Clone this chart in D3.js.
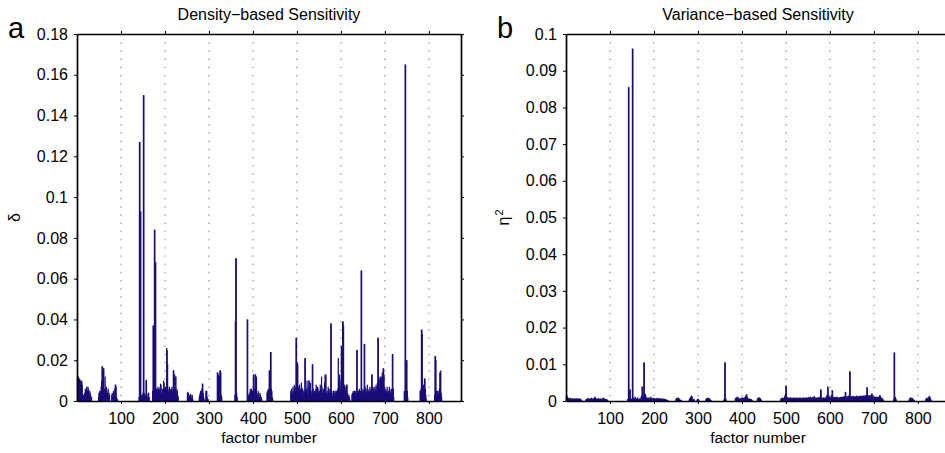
<!DOCTYPE html>
<html lang="en">
<head>
<meta charset="utf-8">
<title>Density- and Variance-based Sensitivity</title>
<style>
    body { margin: 0; background: #fff; }
    svg { display: block; font-family: "Liberation Sans", Arial, sans-serif; }
    .tick text { font-size: 16px; fill: #000; }
    .tick line { stroke: #000; stroke-width: 1; }
    .domain { stroke: #000; stroke-width: 1.7; }
    .grid line { stroke: #777; stroke-width: 1; stroke-dasharray: 1.4,6.8; }
    .bar { fill: #1a0c78; }
</style>
<script src="https://cdn.jsdelivr.net/npm/d3@7/dist/d3.min.js"></script>
</head>
<body>
<svg width="945" height="453"></svg>
<script>
// axis ranges and tick values
const factorMax = 873;
const xTicks = [100, 200, 300, 400, 500, 600, 700, 800];
const deltaTicks = [0, 0.02, 0.04, 0.06, 0.08, 0.1, 0.12, 0.14, 0.16, 0.18];
const etaTicks = [0, 0.01, 0.02, 0.03, 0.04, 0.05, 0.06, 0.07, 0.08, 0.09, 0.1];

// density-based delta: runs of consecutive factors, first factor of each run + its values
const deltaStarts = [1, 49, 79, 141, 172, 251, 278, 319, 359, 387, 432, 486, 625, 744, 780, 813];
const deltaValues = [
    [0.012, 0.0115, 0.012, 0.011, 0.0105, 0.011, 0.010, 0.0095, 0.010, 0.009, 0.010, 0.008, 0.003, 0.002, 0.003, 0.002, 0.004, 0.003,
     0.006, 0.005, 0.006, 0.007, 0.004, 0.005, 0.007, 0.006, 0.003, 0.002, 0.005, 0.004, 0.003, 0.001, 0.002],
    [0.002, 0.004, 0.004, 0.005, 0.005, 0.004, 0.007, 0.010, 0.017, 0.017, 0.005, 0.016, 0.016, 0.006, 0.004, 0.012, 0.006, 0.003,
     0.007, 0.005, 0.004, 0.003, 0.006, 0.002, 0.004, 0.003],
    [0.003, 0.004, 0.002, 0.003, 0.005, 0.004, 0.003, 0.006, 0.008, 0.008, 0.007, 0.002, 0.001, 0.001],
    [0.002, 0.127, 0.127, 0.093, 0.093, 0.003, 0.002, 0.001, 0.003, 0.004, 0.150, 0.150, 0.004, 0.002, 0.001, 0.003, 0.010, 0.0105,
     0.003, 0.001, 0.002, 0.004, 0.004, 0.002],
    [0.005, 0.037, 0.037, 0.006, 0.084, 0.084, 0.068, 0.068, 0.003, 0.006,
     0.006, 0.005, 0.007, 0.006, 0.004, 0.006, 0.005, 0.007, 0.0085, 0.008,
     0.003, 0.004, 0.006, 0.003, 0.005, 0.010, 0.009, 0.006, 0.004, 0.007,
     0.005, 0.006, 0.026, 0.025, 0.018, 0.006, 0.004, 0.005, 0.007, 0.003,
     0.006, 0.005, 0.004, 0.006, 0.007, 0.005, 0.004, 0.015, 0.015, 0.006,
     0.013, 0.012, 0.005, 0.012, 0.004, 0.006, 0.005, 0.003, 0.002],
    [0.004, 0.0045, 0.004, 0.002, 0.001, 0.003, 0.002, 0.0035, 0.003, 0.001, 0.002, 0.003, 0.001],
    [0.002, 0.003, 0.004, 0.005, 0.005, 0.004, 0.006, 0.0085, 0.0085, 0.004, 0.002, 0.001, 0, 0, 0, 0.005, 0.0045, 0.005, 0.002, 0.001, 0.001],
    [0.014, 0.014, 0.010, 0.013, 0.004, 0.012, 0.015, 0.015, 0.014, 0.003, 0.002],
    [0.003, 0.039, 0.070, 0.070, 0.004, 0.002],
    [0.040, 0.040, 0.003, 0.002, 0.003, 0.004, 0.003, 0.006, 0.005, 0.004, 0.006, 0.003, 0.005, 0.004, 0.013, 0.013, 0.006,
     0.003, 0.013, 0.013, 0.011, 0.012, 0.004, 0.003, 0.002, 0.005, 0.004, 0.002, 0.001, 0.004, 0.003, 0.001, 0.002, 0.001],
    [0.004, 0.005, 0.005, 0.006, 0.005, 0.015, 0.014, 0.015, 0.024, 0.024, 0.006, 0.005, 0.002, 0.001],
    [0.005, 0.004, 0.006, 0.004, 0.003, 0.007, 0.005, 0.004, 0.008, 0.006, 0.007, 0.005,
     0.031, 0.031, 0.008, 0.019, 0.018, 0.006, 0.007, 0.004,
     0.008, 0.005, 0.006, 0.003, 0.009, 0.007, 0.004, 0.006, 0.005, 0.003, 0.005, 0.004,
     0.021, 0.021, 0.005,
     0.004, 0.006, 0.010, 0.003, 0.007, 0.005, 0.010, 0.010, 0.004, 0.008, 0.009, 0.004, 0.003, 0.005,
     0.018, 0.018, 0.006, 0.004,
     0.003, 0.005, 0.004, 0.003, 0.006, 0.008, 0.005, 0.003, 0.007, 0.006, 0.004, 0.003, 0.005, 0.004, 0.008, 0.006, 0.003,
     0.012, 0.007, 0.004, 0.003, 0.006, 0.005, 0.004, 0.009,
     0.013, 0.012, 0.013, 0.004,
     0.003, 0.002, 0.005, 0.007, 0.006, 0.003, 0.004, 0.006, 0.005,
     0.038, 0.038, 0.005,
     0.003, 0.002, 0.004, 0.005, 0.005, 0.003, 0.004, 0.005, 0.002, 0.004, 0.005, 0.003, 0.005, 0.006,
     0.021, 0.009, 0.005, 0.013, 0.006, 0.004, 0.010, 0.027, 0.027, 0.008, 0.039, 0.039, 0.037, 0.006,
     0.008, 0.005, 0.004, 0.007, 0.003, 0.008, 0.008, 0.004, 0.002, 0.003, 0.003, 0.002, 0.001],
    [0.003, 0.004, 0.004, 0.005, 0.003, 0.004, 0.005, 0.004, 0.003, 0.005, 0.004, 0.025, 0.025, 0.004, 0.003, 0.005,
     0.004, 0.006, 0.003, 0.005, 0.004, 0.064, 0.064, 0.005, 0.004, 0.006, 0.005, 0.003, 0.028, 0.028, 0.007, 0.005,
     0.006, 0.003, 0.005, 0.008, 0.004, 0.003, 0.005, 0.006, 0.004, 0.007, 0.005, 0.003, 0.006, 0.013, 0.013, 0.005,
     0.007, 0.006, 0.004, 0.005, 0.007, 0.003, 0.006, 0.008, 0.005, 0.007, 0.009, 0.031, 0.031, 0.012, 0.011, 0.006,
     0.010, 0.012, 0.008, 0.011, 0.012, 0.014, 0.012, 0.016, 0.016, 0.013, 0.007, 0.005, 0.004, 0.006, 0.003, 0.005,
     0.007, 0.004, 0.003, 0.005, 0.004, 0.007, 0.006, 0.004, 0.003, 0.005, 0.006, 0.004, 0.023, 0.023, 0.006, 0.002],
    [0.005, 0.004, 0.165, 0.165, 0.003, 0.020, 0.020, 0.005, 0.002],
    [0.005, 0.004, 0.006, 0.035, 0.035, 0.033, 0.007, 0.006, 0.008, 0.007, 0.011, 0.011, 0.006, 0.003, 0.001],
    [0.003, 0.022, 0.022, 0.020, 0.005, 0.004, 0.005, 0.004, 0.005, 0.003, 0.004, 0.006, 0.014, 0.014, 0.015, 0.004, 0.002]
];

// variance-based eta^2, same layout
const etaStarts = [1, 45, 140, 170, 250, 280, 298, 318, 359, 385, 435, 488, 745, 780, 818];
const etaValues = [
    [0.0013, 0.0015, 0.0012, 0.0010, 0.0008, 0.0006, 0.0007, 0.0005, 0.0009, 0.0006, 0.0004, 0.0007, 0.0005, 0.0006, 0.0008, 0.0005,
     0.0004, 0.0006, 0.0007, 0.0005, 0.0006, 0.0004, 0.0008, 0.0005, 0.0006, 0.0007, 0.0004, 0.0005, 0.0006, 0.0008, 0.0005, 0.0004,
     0.0006, 0.0005, 0.0003, 0.0002],
    [0.0003, 0.0005, 0.0006, 0.0004, 0.0007, 0.0005, 0.0006, 0.0008, 0.0005, 0.0004, 0.0006, 0.0007, 0.0005, 0.0009, 0.0006, 0.0004,
     0.0005, 0.0008, 0.0006, 0.0007, 0.0010, 0.0012, 0.0008, 0.0006, 0.0005, 0.0007, 0.0004, 0.0006, 0.0005, 0.0008, 0.0006, 0.0004,
     0.0005, 0.0007, 0.0006, 0.0005, 0.0004, 0.0006, 0.0008, 0.0005, 0.0007, 0.0009, 0.0006, 0.0004, 0.0005, 0.0006, 0.0004, 0.0003,
     0.0005, 0.0003, 0.0002],
    [0.0005, 0.0006, 0.0855, 0.0855, 0.0008, 0.0030, 0.0032, 0.0008, 0.0005, 0.0004, 0.0006, 0.0960, 0.0960, 0.0009, 0.0006, 0.0008,
     0.0005, 0.0012, 0.0009, 0.0006, 0.0004, 0.0007, 0.0005, 0.0010, 0.0006, 0.0004, 0.0005, 0.0007, 0.0004],
    [0.0008, 0.0012, 0.0015, 0.0040, 0.0038, 0.0015, 0.0010, 0.0105, 0.0105, 0.0018, 0.0020, 0.0015, 0.0012,
     0.0008, 0.0006, 0.0009, 0.0007, 0.0005, 0.0008, 0.0010, 0.0007, 0.0006, 0.0009, 0.0012, 0.0008, 0.0006, 0.0005, 0.0007, 0.0009,
     0.0006, 0.0008, 0.0005, 0.0007, 0.0006, 0.0004, 0.0008, 0.0006, 0.0005, 0.0007, 0.0009, 0.0006, 0.0005, 0.0004, 0.0007, 0.0006,
     0.0008, 0.0005, 0.0006, 0.0004, 0.0005, 0.0007, 0.0006, 0.0004, 0.0005, 0.0006, 0.0004, 0.0003, 0.0005, 0.0004, 0.0003, 0.0002,
     0.0003, 0.0002],
    [0.0005, 0.0008, 0.0009, 0.0007, 0.0008, 0.0006, 0.0009, 0.0007, 0.0005, 0.0004, 0.0003, 0.0002, 0.0003],
    [0.0004, 0.0006, 0.0008, 0.0010, 0.0012, 0.0015, 0.0014, 0.0010, 0.0006, 0.0004, 0.0003, 0.0005, 0.0004],
    [0.0004, 0.0005, 0.0006, 0.0005, 0.0003],
    [0.0004, 0.0006, 0.0008, 0.0007, 0.0009, 0.0008, 0.0006, 0.0008, 0.0007, 0.0005, 0.0004, 0.0003, 0.0002],
    [0.0004, 0.0006, 0.0105, 0.0105, 0.0008, 0.0004],
    [0.0008, 0.0006, 0.0010, 0.0008, 0.0012, 0.0009, 0.0007, 0.0010, 0.0008, 0.0005, 0.0004, 0.0006, 0.0008, 0.0007, 0.0009, 0.0006,
     0.0008, 0.0010, 0.0007, 0.0006, 0.0009, 0.0008, 0.0011, 0.0012, 0.0015, 0.0018, 0.0018, 0.0012, 0.0008, 0.0006, 0.0005, 0.0007,
     0.0006, 0.0005, 0.0004, 0.0006, 0.0005, 0.0004, 0.0003],
    [0.0005, 0.0008, 0.0009, 0.0007, 0.0010, 0.0008, 0.0009, 0.0006, 0.0005, 0.0003],
    [0.0005, 0.0007, 0.0008, 0.0006, 0.0009, 0.0007, 0.0008, 0.0006, 0.0010, 0.0012,
     0.0015, 0.0020, 0.0043, 0.0040, 0.0012, 0.0009, 0.0008, 0.0010, 0.0007, 0.0009,
     0.0008, 0.0006, 0.0009, 0.0010, 0.0007, 0.0008, 0.0009, 0.0006, 0.0008, 0.0007,
     0.0010, 0.0009, 0.0007, 0.0008, 0.0006, 0.0009, 0.0008, 0.0010, 0.0007, 0.0006,
     0.0008, 0.0009, 0.0007, 0.0008, 0.0010, 0.0006, 0.0008, 0.0009, 0.0007, 0.0008,
     0.0006, 0.0009, 0.0010, 0.0008, 0.0007, 0.0009, 0.0008, 0.0006, 0.0010, 0.0008,
     0.0007, 0.0009, 0.0008, 0.0011, 0.0007, 0.0008, 0.0010, 0.0009, 0.0012, 0.0008,
     0.0007, 0.0009, 0.0010, 0.0008, 0.0012, 0.0009, 0.0011, 0.0013, 0.0010, 0.0008,
     0.0007, 0.0009, 0.0008, 0.0010, 0.0007, 0.0008, 0.0009, 0.0011, 0.0008, 0.0010,
     0.0012, 0.0032, 0.0030, 0.0010, 0.0008, 0.0007, 0.0009, 0.0008, 0.0010, 0.0007,
     0.0008, 0.0009, 0.0007, 0.0010, 0.0012, 0.0015, 0.0018, 0.0040, 0.0036, 0.0015,
     0.0010, 0.0012, 0.0011, 0.0009, 0.0010, 0.0013, 0.0016, 0.0030, 0.0028, 0.0012,
     0.0010, 0.0011, 0.0009, 0.0010, 0.0008, 0.0011, 0.0009, 0.0010, 0.0012, 0.0008,
     0.0010, 0.0009, 0.0007, 0.0009, 0.0010, 0.0008, 0.0011, 0.0009, 0.0010, 0.0012,
     0.0009, 0.0011, 0.0010, 0.0012, 0.0013, 0.0010, 0.0014, 0.0025, 0.0024, 0.0012,
     0.0010, 0.0013, 0.0011, 0.0012, 0.0015, 0.0013, 0.0014, 0.0081, 0.0080, 0.0012,
     0.0011, 0.0013, 0.0012, 0.0010, 0.0012, 0.0014, 0.0011, 0.0013, 0.0012, 0.0010,
     0.0012, 0.0011, 0.0013, 0.0015, 0.0012, 0.0010, 0.0013, 0.0012, 0.0014, 0.0011,
     0.0013, 0.0012, 0.0015, 0.0013, 0.0011, 0.0014, 0.0012, 0.0013, 0.0015, 0.0012,
     0.0014, 0.0013, 0.0016, 0.0014, 0.0015, 0.0017, 0.0038, 0.0036, 0.0016, 0.0014,
     0.0015, 0.0013, 0.0016, 0.0014, 0.0015, 0.0013, 0.0017, 0.0021, 0.0020, 0.0014,
     0.0012, 0.0013, 0.0011, 0.0010, 0.0012, 0.0011, 0.0009, 0.0010, 0.0012, 0.0011,
     0.0010, 0.0009, 0.0011, 0.0010, 0.0013, 0.0015, 0.0016, 0.0012, 0.0010, 0.0009,
     0.0008, 0.0007, 0.0006, 0.0004, 0.0002],
    [0.0006, 0.0132, 0.0132, 0.0012, 0.0010, 0.0006, 0.0004],
    [0.0004, 0.0006, 0.0008, 0.0010, 0.0009, 0.0008, 0.0007, 0.0006, 0.0008, 0.0005, 0.0004, 0.0003, 0.0002],
    [0.0005, 0.0008, 0.0006, 0.0009, 0.0007, 0.0008, 0.0010, 0.0012, 0.0011, 0.0014, 0.0009, 0.0006, 0.0003]
];

const svg = d3.select("svg");
const plotTop = 34, plotBottom = 401;

// turn runs into one record per factor
function expand(starts, values) {
    return starts.flatMap((s, k) => values[k].map((v, j) => ({ factor: s + j, value: v })));
}

const panels = [
    { letter: "a", title: "Density\u2212based Sensitivity", yLabel: "\u03b4", sup: null,
      ticks: deltaTicks, data: expand(deltaStarts, deltaValues), left: 77, right: 461 },
    { letter: "b", title: "Variance\u2212based Sensitivity", yLabel: "\u03b7", sup: "2",
      ticks: etaTicks, data: expand(etaStarts, etaValues), left: 566, right: 950 }
];

panels.forEach(p => {
    let x = d3.scaleLinear().domain([0, factorMax]).range([p.left, p.right]),
        y = d3.scaleLinear().domain([0, d3.max(p.ticks)]).range([plotBottom, plotTop]),
        g = svg.append("g");

    // dotted vertical grid
    g.append("g").attr("class", "grid")
        .selectAll("line").data(xTicks).join("line")
        .attr("x1", d => x(d)).attr("x2", d => x(d))
        .attr("y1", plotTop).attr("y2", plotBottom);

    // bars, slightly widened so neighbours merge like the original
    let bw = x(1) - x(0);
    g.append("g").selectAll("rect")
        .data(p.data.filter(d => d.value > 0)).join("rect")
        .attr("class", "bar")
        .attr("x", d => x(d.factor - 0.5) - 0.4)
        .attr("width", bw + 0.8)
        .attr("y", d => y(d.value))
        .attr("height", d => plotBottom - y(d.value));

    let fmt = d => String(d);
    g.append("g").attr("transform", `translate(0,${plotBottom})`)
        .call(d3.axisBottom(x).tickValues(xTicks).tickSize(3).tickSizeOuter(0).tickPadding(9));
    g.append("g").attr("transform", `translate(0,${plotTop})`)
        .call(d3.axisTop(x).tickValues(xTicks).tickSize(3).tickSizeOuter(0).tickFormat(""));
    g.append("g").attr("transform", `translate(${p.left},0)`)
        .call(d3.axisLeft(y).tickValues(p.ticks).tickSize(3).tickSizeOuter(0).tickPadding(6).tickFormat(fmt));
    g.append("g").attr("transform", `translate(${p.right},0)`)
        .call(d3.axisRight(y).tickValues(p.ticks).tickSize(3).tickSizeOuter(0).tickFormat(""));
    g.selectAll(".tick text").attr("font-family", null);
    g.selectAll(".domain").attr("stroke", "#000");

    let cx = (p.left + p.right) / 2;
    g.append("text").attr("x", cx).attr("y", 20)
        .attr("text-anchor", "middle").style("font-size", "16px").text(p.title);
    g.append("text").attr("x", cx).attr("y", 443)
        .attr("text-anchor", "middle").style("font-size", "15.5px").text("factor number");
    g.append("text").attr("x", p.left - 69).attr("y", 38)
        .style("font-size", "29px").text(p.letter);

    let yl = g.append("text")
        .attr("transform", `translate(${p.left - 57},${(plotTop + plotBottom) / 2}) rotate(-90)`)
        .attr("text-anchor", "middle").style("font-size", "16px").text(p.yLabel);
    if (p.sup) {
        yl.append("tspan").attr("dy", "-0.55em").attr("dx", "1").style("font-size", "11px").text(p.sup);
    }
});
</script>
</body>
</html>
